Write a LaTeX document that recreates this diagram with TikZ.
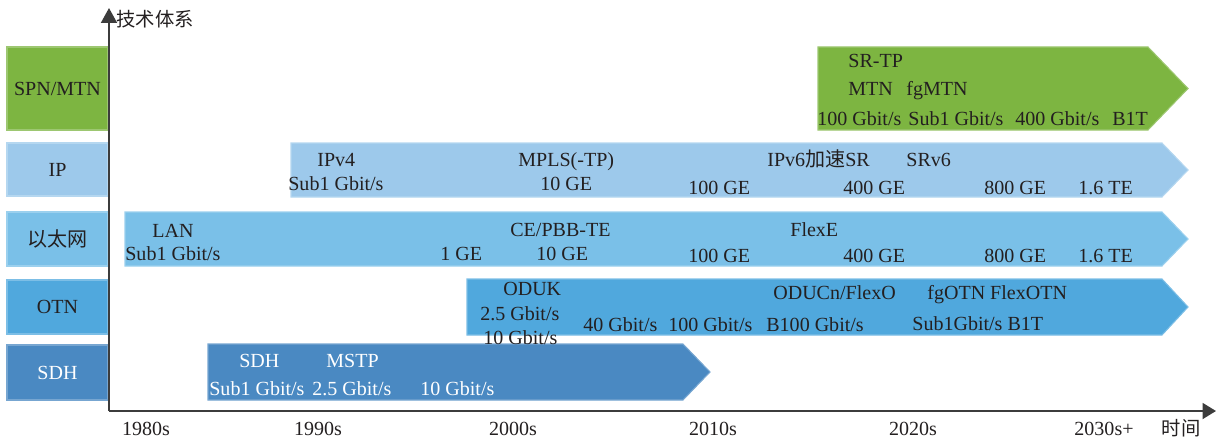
\documentclass[tikz,border=0pt]{standalone}
\usepackage{fontspec}
\setmainfont{Liberation Serif}
\newfontfamily\cjkfont{Noto Sans CJK SC}
\usepackage{xcolor}
\usepackage{tikz}
\usetikzlibrary{arrows.meta}
\definecolor{spngreen}{RGB}{125, 181, 65}
\definecolor{ipblue}{RGB}{157, 201, 235}
\definecolor{ethblue}{RGB}{122, 192, 232}
\definecolor{otnblue}{RGB}{80, 168, 221}
\definecolor{sdhblue}{RGB}{74, 137, 194}
\definecolor{axisgray}{RGB}{60, 60, 60}
\definecolor{txtdark}{RGB}{35, 31, 32}

\begin{document}
\begin{tikzpicture}[x=0.02cm, y=-0.02cm]
\tikzset{
  catbox/.style={rectangle, minimum width=2.02cm, inner sep=0pt, line width=0.6pt,
    font=\fontsize{11.4}{13}\selectfont, text=txtdark},
  bar/.style={line width=0.6pt},
  lbl/.style={anchor=base west, inner sep=0pt, font=\fontsize{11.4}{13}\selectfont, text=txtdark},
  wlbl/.style={lbl, text=white},
  yrlbl/.style={anchor=base, inner sep=0pt, font=\fontsize{11.4}{13}\selectfont, text=txtdark},
  axis/.style={line width=1.1pt, draw=axisgray}
}
\useasboundingbox (0,0) rectangle (1216,439);
% category boxes
\node[catbox, fill=spngreen, draw=spngreen!75!white, minimum height=1.66cm] (cspn) at (57.5,88.5) {SPN/MTN};
\node[catbox, fill=ipblue, draw=ipblue!75!white, minimum height=1.06cm] (cip) at (57.5,169.5) {IP};
\node[catbox, fill=ethblue, draw=ethblue!75!white, minimum height=1.08cm] (ceth) at (57.5,239) {\cjkfont 以太网};
\node[catbox, fill=otnblue, draw=otnblue!75!white, minimum height=1.08cm] (cotn) at (57.5,307) {OTN};
\node[catbox, fill=sdhblue, draw=sdhblue!75!white, minimum height=1.1cm, text=white] (csdh) at (57.5,372.5) {SDH};
% bars
\path[bar, fill=spngreen, draw=spngreen!75!white] (818,47) -- (1148,47) -- (1188,88.5) -- (1148,130) -- (818,130) -- cycle;
\path[bar, fill=ipblue, draw=ipblue!75!white] (291,143) -- (1162,143) -- (1188,170) -- (1162,197) -- (291,197) -- cycle;
\path[bar, fill=ethblue, draw=ethblue!75!white] (125,212) -- (1162,212) -- (1188,239) -- (1162,266) -- (125,266) -- cycle;
\path[bar, fill=otnblue, draw=otnblue!75!white] (467,279) -- (1162,279) -- (1188,307) -- (1162,335) -- (467,335) -- cycle;
\path[bar, fill=sdhblue, draw=sdhblue!75!white] (208,344) -- (683,344) -- (710,372) -- (683,400) -- (208,400) -- cycle;
% SPN/MTN
\node[lbl] (srtp) at (848,68) {SR-TP};
\node[lbl] (mtn) at (848,95) {MTN};
\node[lbl] (fgmtn) at (906,95) {fgMTN};
\node[lbl] (s100g) at (817,125) {100 Gbit/s};
\node[lbl] (ssub1) at (908,125) {Sub1 Gbit/s};
\node[lbl] (s400g) at (1015,125) {400 Gbit/s};
\node[lbl] (sb1t) at (1112,125) {B1T};
% IP
\node[lbl] (ipv4) at (317,166) {IPv4};
\node[lbl] (isub1) at (288,190) {Sub1 Gbit/s};
\node[lbl] (mpls) at (518,166) {MPLS(-TP)};
\node[lbl] (i10ge) at (540,190) {10 GE};
\node[lbl] (i100ge) at (688,194) {100 GE};
\node[lbl] (ipv6) at (767,166) {IPv6{\cjkfont 加速}SR};
\node[lbl] (srv6) at (906,166) {SRv6};
\node[lbl] (i400ge) at (843,194) {400 GE};
\node[lbl] (i800ge) at (984,194) {800 GE};
\node[lbl] (i16te) at (1078,194) {1.6 TE};
% Ethernet
\node[lbl] (lan) at (152,237) {LAN};
\node[lbl] (esub1) at (125,260) {Sub1 Gbit/s};
\node[lbl] (e1ge) at (440,260) {1 GE};
\node[lbl] (cepbb) at (510,236) {CE/PBB-TE};
\node[lbl] (e10ge) at (536,260) {10 GE};
\node[lbl] (e100ge) at (688,262) {100 GE};
\node[lbl] (flexe) at (790,236) {FlexE};
\node[lbl] (e400ge) at (843,262) {400 GE};
\node[lbl] (e800ge) at (984,262) {800 GE};
\node[lbl] (e16te) at (1078,262) {1.6 TE};
% OTN
\node[lbl] (oduk) at (503,295) {ODUK};
\node[lbl] (o25g) at (480,320) {2.5 Gbit/s};
\node[lbl] (o10g) at (483,344) {10 Gbit/s};
\node[lbl] (o40g) at (583,331) {40 Gbit/s};
\node[lbl] (o100g) at (668,331) {100 Gbit/s};
\node[lbl] (ob100g) at (766,331) {B100 Gbit/s};
\node[lbl] (oducn) at (773,299) {ODUCn/FlexO};
\node[lbl] (fgotn) at (927,299) {fgOTN FlexOTN};
\node[lbl] (osub1) at (912,330) {Sub1Gbit/s B1T};
% SDH
\node[wlbl] (sdh) at (239,367) {SDH};
\node[wlbl] (mstp) at (326,367) {MSTP};
\node[wlbl] (dsub1) at (209,395) {Sub1 Gbit/s};
\node[wlbl] (d25g) at (312,395) {2.5 Gbit/s};
\node[wlbl] (d10g) at (420,395) {10 Gbit/s};
% axes
\coordinate (o) at (109,411);
\coordinate (ytop) at (109,8);
\coordinate (xend) at (1216,411);
\draw[axis, -{Triangle[length=0.3cm, width=0.32cm]}] (o) -- (ytop);
\draw[axis, -{Triangle[length=0.27cm, width=0.32cm]}] (o) -- (xend);
\node[anchor=west, inner sep=0pt, font=\cjkfont\fontsize{11}{13}\selectfont, text=txtdark] (ylab) at (116,19) {技术体系};
\node[inner sep=0pt, font=\cjkfont\fontsize{11}{13}\selectfont, text=txtdark] (xlab) at (1181,428) {时间};
\node[yrlbl] (y80) at (146,435) {1980s};
\node[yrlbl] (y90) at (318,435) {1990s};
\node[yrlbl] (y00) at (513,435) {2000s};
\node[yrlbl] (y10) at (713,435) {2010s};
\node[yrlbl] (y20) at (913,435) {2020s};
\node[yrlbl] (y30) at (1104,435) {2030s+};
\end{tikzpicture}
\end{document}
